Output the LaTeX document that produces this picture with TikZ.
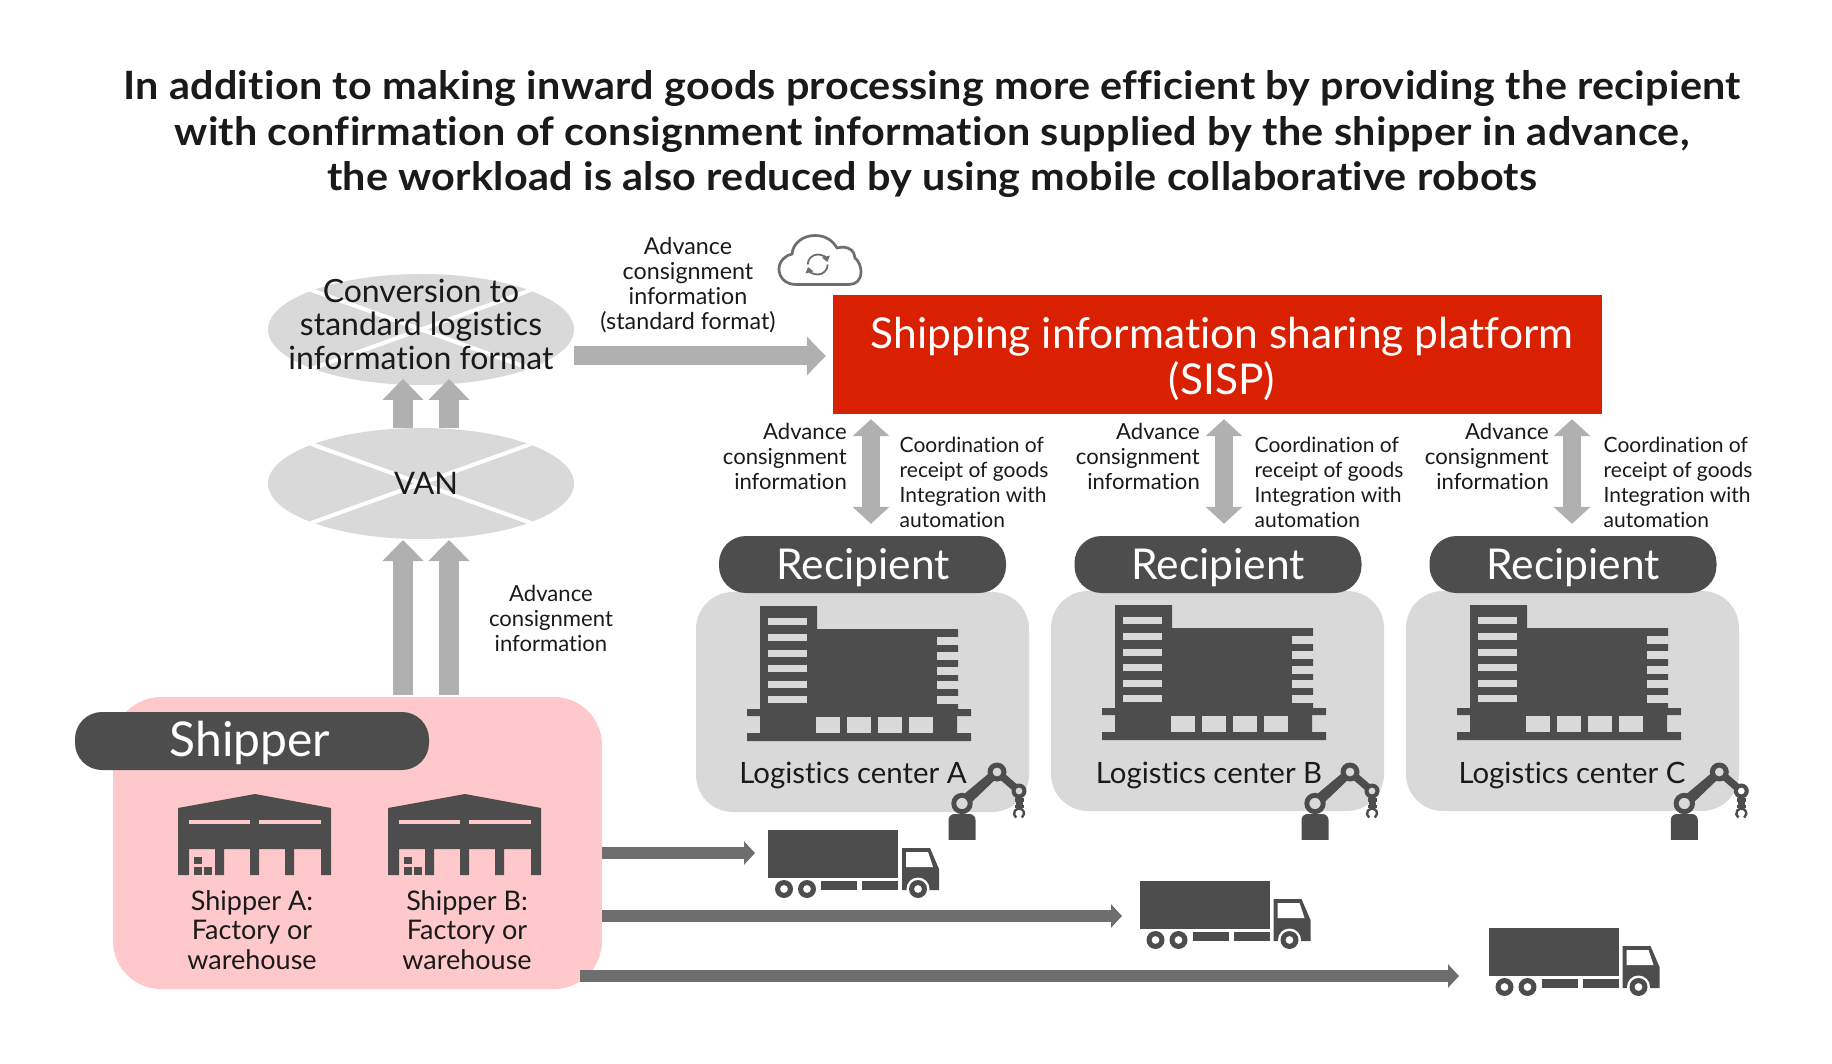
\documentclass[tikz,border=0pt]{standalone}
\usepackage{fontspec}
\setmainfont[Ligatures=NoCommon]{Lato}
\newfontfamily\titlefont[Ligatures=NoCommon,FakeStretch=1.06,LetterSpace=0.6]{Lato}
\usetikzlibrary{arrows.meta,shapes.geometric}
\definecolor{dark}{HTML}{4D4D4D}
\definecolor{boxg}{HTML}{D9D9D9}
\definecolor{arrg}{HTML}{B0B0B0}
\definecolor{truckarr}{HTML}{6E6E6E}
\definecolor{sred}{HTML}{D92000}
\definecolor{pinkb}{HTML}{FFC9CC}
\definecolor{ink}{HTML}{1A1A1A}
\tikzset{
 x=1pt,y=-1pt,
 txt/.style={inner sep=0pt,text=ink,align=center},
 small/.style={txt,font=\fontsize{22.1}{25}\selectfont},
 narrow/.style={txt,font=\fontsize{21}{25}\selectfont},
 mid/.style={txt,font=\fontsize{27}{29.3}\selectfont},
 big/.style={txt,font=\fontsize{32}{33.5}\selectfont},
 pill/.style={rounded corners=27pt,fill=dark,text=white,inner sep=0pt,align=center},
 up/.style={draw=arrg,line width=20pt,-{Triangle[length=21pt,width=40pt]}},
 horiz/.style={draw=arrg,line width=19pt,-{Triangle[length=19pt,width=38pt]}},
 both/.style={draw=arrg,line width=18pt,{Triangle[length=17pt,width=36pt]}-{Triangle[length=17pt,width=36pt]}},
 ship/.style={draw=truckarr,line width=12pt,-{Triangle[length=11pt,width=23pt]}},
 lbox/.style={fill=boxg,rounded corners=37pt,minimum width=333pt,minimum height=220pt,inner sep=0pt},
 ell/.style={ellipse,fill=boxg,minimum width=306pt,minimum height=111pt,inner sep=0pt},
 logi/.style={txt,font=\fontsize{29.4}{32}\selectfont},
}
\newcommand{\ellx}[2]{\draw[white,line width=4pt] (#1-110,#2-39.5) -- (#1+110,#2+39.5) (#1-110,#2+39.5) -- (#1+110,#2-39.5);}
\newcommand{\bldg}[2]{\begin{scope}[shift={(#1,#2)}]
 \fill[dark] (760,605)--(817,605)--(817,628)--(958,628)--(958,708)--(971,708)--(971,715)--(957,715)--(957,732)--(971,732)--(971,740)--(747,740)--(747,732)--(760,732)--(760,715)--(747,715)--(747,708)--(760,708)--cycle;
 \foreach \yy in {617,633,649,664,680,695} \fill[boxg] (768,\yy) rectangle (807,\yy+7);
 \foreach \yy in {636,651,666,680,695} \fill[boxg] (937,\yy) rectangle (958.5,\yy+7.5);
 \foreach \xx in {816,847,878,909} \fill[boxg] (\xx,716) rectangle (\xx+24,732);
\end{scope}}
\newcommand{\robot}[2]{\begin{scope}[shift={(#1,#2)}]
 \begin{scope}
 \clip (940,812) rectangle (985,838.5);
 \fill[dark,rounded corners=6pt] (948.5,850)--(948.5,813)--(975.5,813)--(975.5,850)--cycle;
 \end{scope}
 \fill[dark] (964.2,793)--(988.8,772.4)--(994.8,779)--(971.6,801.2)--cycle;
 \draw[dark,line width=7.5pt] (1002.3,775.6)--(1014.8,786.4);
 \fill[dark] (1014.5,797) rectangle (1023.5,801);
 \fill[dark] (1015.5,801) rectangle (1022.5,803.5);
 \fill[dark] (1014.5,803.5) rectangle (1023.5,807);
 \fill[dark,even odd rule] (962,802.5) circle[radius=10.7] (962,802.5) circle[radius=5.7];
 \fill[dark,even odd rule] (997,771) circle[radius=9.5] (997,771) circle[radius=4.5];
 \fill[dark,even odd rule] (1019,790) circle[radius=7.5] (1019,790) circle[radius=3.5];
 \draw[dark,line width=2.4pt] (1019,812.5) ++(125:5) arc[start angle=125,end angle=415,radius=5];
\end{scope}}
\newcommand{\truck}[2]{\begin{scope}[shift={(#1,#2)}]
 \fill[dark] (768,829) rectangle (898,877);
 \fill[dark] (821,880) rectangle (857,889);
 \fill[dark] (862,880) rectangle (898,889);
 \fill[dark] (902,847)--(930,847)--(939,868)--(939,889)--(902,889)--cycle;
 \fill[white] (906,851)--(928,851)--(933,866)--(906,866)--cycle;
 \fill[white] (918,888) circle[radius=11.5];
 \foreach \xx in {784,807,918} \fill[dark,even odd rule] (\xx,888) circle[radius=9] (\xx,888) circle[radius=4];
\end{scope}}
\newcommand{\wareh}[1]{\begin{scope}[shift={(#1,0)}]
 \fill[dark] (178,807)--(255,793)--(331,807)--(331,874)--(321,874)--(321,848)--(294,848)--(294,874)--(285,874)--(285,848)--(259,848)--(259,874)--(250,874)--(250,848)--(224,848)--(224,874)--(215,874)--(215,848)--(189,848)--(189,874)--(178,874)--cycle;
 \fill[pinkb] (189,819) rectangle (250,823);
 \fill[pinkb] (259,819) rectangle (321,823);
 \fill[dark] (194,856) rectangle (202,863);
 \fill[dark] (194,866) rectangle (202,874);
 \fill[dark] (204,866) rectangle (212,874);
\end{scope}}
\begin{document}
\begin{tikzpicture}
\useasboundingbox (0,-1) rectangle (1832,1063);
\fill[white] (0,-1) rectangle (1832,1063);
% title
\node[txt,font=\titlefont\fontsize{39}{45.5}\bfseries\selectfont] (title) at (932,133.5) {In addition to making inward goods processing more efficient by providing the recipient\\with confirmation of consignment information supplied by the shipper in advance,\\the workload is also reduced by using mobile collaborative robots};
% ellipses
\node[ell] (conv) at (421,328.5) {};
\ellx{421}{328.5}
\node[big] (convt) at (421,323) {Conversion to\\standard logistics\\information format};
\node[ell] (van) at (421,482.5) {};
\ellx{421}{482.5}
\node[txt,font=\fontsize{31}{33.5}\selectfont] (vant) at (426,482) {VAN};
% platform
\node[fill=sred,minimum width=769pt,minimum height=119pt,inner sep=0pt] (sisp) at (1217.5,353.5) {};
\node[text=white,inner sep=0pt,font=\fontsize{42.5}{46}\selectfont,align=center] (sispt) at (1222,358) {Shipping information sharing platform\\(SISP)};
% cloud
\draw[truckarr,line width=2.7pt] (796,283.5) .. controls (785,283.5) and (779,276) .. (779,268) .. controls (779,260) and (786,254) .. (792,253) .. controls (793,242) and (803,234.5) .. (815,234.5) .. controls (826,234.5) and (833,240) .. (837,247) .. controls (848,244) and (855,250) .. (855,257) .. controls (859,260) and (861,266) .. (861,271) .. controls (861,279) and (856,283.5) .. (849,283.5) -- cycle;
\coordinate (sync) at (817.7,263.5);
\draw[truckarr,line width=1.8pt,-{Triangle[length=5.5pt,width=8pt]}] (sync) ++(180:10) arc[start angle=180,end angle=345,radius=10];
\draw[truckarr,line width=1.8pt,-{Triangle[length=5.5pt,width=8pt]}] (sync) ++(0:10) arc[start angle=0,end angle=165,radius=10];
\node[small,font=\fontsize{23.3}{25}\selectfont] (advtop) at (688,284) {Advance\\consignment\\information\\(standard format)};
% arrows top
\coordinate (a1) at (403,427); \coordinate (a2) at (449,427);
\coordinate (a1t) at (403,378); \coordinate (a2t) at (449,378);
\draw[up] (van.north -| a1) -- (a1t);
\draw[up] (van.north -| a2) -- (a2t);
\coordinate (b1) at (403,694); \coordinate (b2) at (449,694);
\coordinate (b1t) at (403,539); \coordinate (b2t) at (449,539);
\draw[up] (b1) -- (b1t);
\draw[up] (b2) -- (b2t);
\coordinate (hy) at (0,355);
\draw[horiz,shorten >=7pt] (conv.east |- hy) -- (sisp.west |- hy);
\node[small] (advup) at (551,617) {Advance\\consignment\\information};
% logistics boxes
\foreach \n/\dx/\dy in {a/0/0,b/355/-1,c/710/-1}{
 \node[lbox] (box\n) at (862.5+\dx,701+\dy) {};
 \bldg{\dx}{\dy}
}
\node[pill,minimum width=287pt,minimum height=57pt] (reca) at (862.5,563.5) {};
\node[pill,minimum width=287pt,minimum height=57pt] (recb) at (1218,563.5) {};
\node[pill,minimum width=287pt,minimum height=57pt] (recc) at (1573,563.5) {};
\foreach \n/\xx in {a/863,b/1218,c/1573}
 \node[inner sep=0pt,text=white,font=\fontsize{42.5}{44}\selectfont] (rect\n) at (\xx,567) {Recipient};
\node[logi] (la) at (853,774.5) {Logistics center A};
\node[logi] (lb) at (1209,774.5) {Logistics center B};
\node[logi] (lc) at (1572,774.5) {Logistics center C};
\robot{0}{0}\robot{353}{0}\robot{722.3}{0}
% double arrows
\foreach \xx/\nm in {871/a,1224/b,1572/c}{
 \coordinate (d\nm) at (\xx,470);
 \draw[both,shorten <=5pt,shorten >=12pt] (sisp.south -| d\nm) -- (rec\nm.north -| d\nm);
}
\node[small,align=right,anchor=east] (l1) at (847,455) {Advance\\consignment\\information};
\node[small,align=right,anchor=east] (l2) at (1200,455) {Advance\\consignment\\information};
\node[small,align=right,anchor=east] (l3) at (1549,455) {Advance\\consignment\\information};
\node[narrow,align=left,anchor=west] (r1) at (899.5,481.5) {Coordination of\\receipt of goods\\Integration with\\automation};
\node[narrow,align=left,anchor=west] (r2) at (1254.5,481.5) {Coordination of\\receipt of goods\\Integration with\\automation};
\node[narrow,align=left,anchor=west] (r3) at (1603.5,481.5) {Coordination of\\receipt of goods\\Integration with\\automation};
% shipper
\node[fill=pinkb,rounded corners=48pt,minimum width=489pt,minimum height=292pt,inner sep=0pt] (pink) at (357.5,842) {};
\node[pill,minimum width=354pt,minimum height=58pt] (shipperp) at (252,740) {};
\node[inner sep=0pt,text=white,font=\fontsize{48}{48}\selectfont] (shippert) at (250,742) {Shipper};
\wareh{0}\wareh{210}
\node[mid] (sa) at (252,929) {Shipper A:\\Factory or\\warehouse};
\node[mid] (sb) at (467,929) {Shipper B:\\Factory or\\warehouse};
% trucks
\truck{0}{0}\truck{371.5}{51}\truck{720.5}{98}
\coordinate (t1) at (755,852); \coordinate (t2) at (1122,915); \coordinate (t3) at (1459,975);
\draw[ship] (pink.east |- t1) -- (t1);
\draw[ship] (pink.east |- t2) -- (t2);
\coordinate (s3) at (580,975);
\draw[ship] (s3) -- (t3);
\end{tikzpicture}
\end{document}
